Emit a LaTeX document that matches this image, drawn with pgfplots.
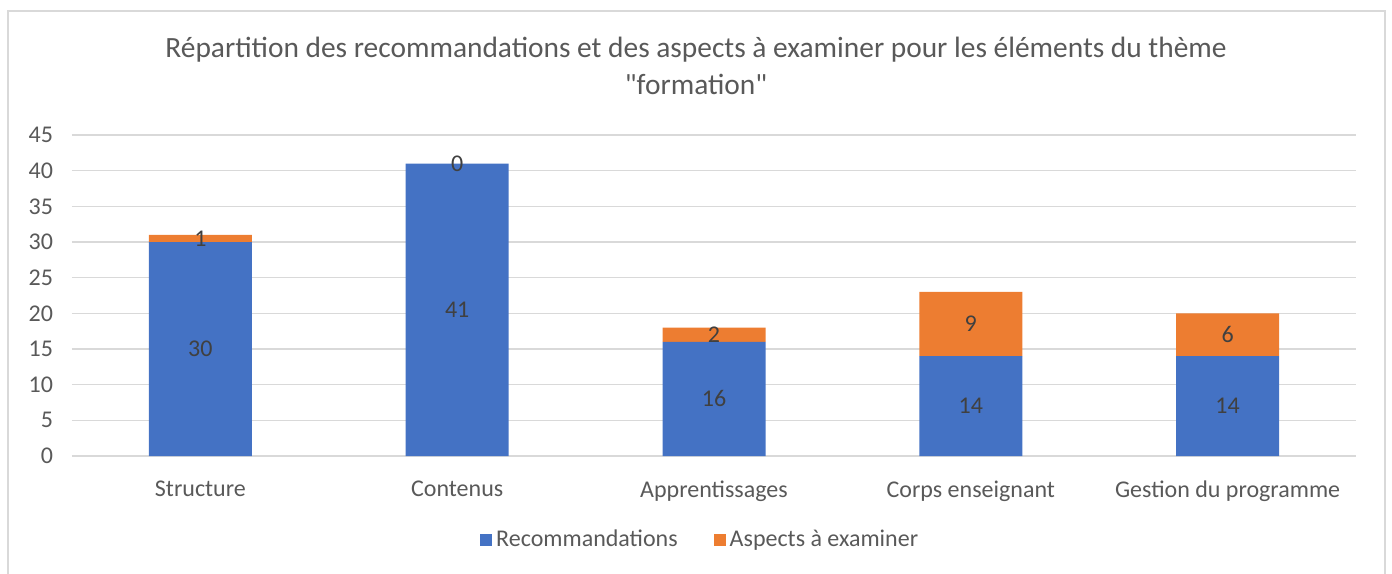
\documentclass[border=0pt]{standalone}
\usepackage{fontspec}
\setmainfont{Carlito}[Ligatures=TeXOff]
\usepackage{pgfplots}
\usepackage{pgfplotstable}
\pgfplotsset{compat=1.18}
\usetikzlibrary{calc}

\definecolor{xblue}{HTML}{4472C4}
\definecolor{xorange}{HTML}{ED7D31}
\definecolor{xgrid}{HTML}{D9D9D9}
\definecolor{xtext}{HTML}{595959}
\definecolor{xlabel}{HTML}{404040}

\pgfplotstableread{
x r a
0 30 1
1 41 0
2 16 2
3 14 9
4 14 6
}\formation

\begin{document}
\begin{tikzpicture}[x=0.5pt, y=0.5pt]
  \begin{axis}[
      scale only axis,
      width=642pt, height=160.5pt,
      ybar stacked, bar width=51.5pt,
      xmin=-0.5, xmax=4.5, ymin=0, ymax=45,
      xtick=data,
      xticklabels={Structure, Contenus, Apprentissages, Corps enseignant, Gestion du programme},
      ytick={0,5,...,45},
      ymajorgrids, grid style={xgrid, line width=0.75pt},
      axis lines*=left,
      y axis line style={draw=none},
      x axis line style={xgrid, line width=0.75pt, -},
      major tick length=0pt,
      tick label style={font=\fontsize{12}{14}\selectfont, text=xtext},
      /pgf/number format/assume math mode=true,
      yticklabel style={xshift=-6pt},
      xticklabel style={yshift=-9pt},
      point meta=explicit,
      nodes near coords,
      every node near coord/.append style={anchor=center,
        font=\fontsize{12}{14}\selectfont, text=xlabel},
      legend style={at={(0.49,-0.262)}, anchor=center, draw=none, fill=none,
        legend columns=2, font=\fontsize{12}{14}\selectfont, text=xtext,
        /tikz/every even column/.append style={column sep=16pt}},
      legend image code/.code={\fill[#1] (0pt,-3pt) rectangle (6pt,3pt);},
    ]
    \addplot[fill=xblue, draw=none] table[x=x, y=r, meta=r] {\formation};
    \addlegendentry{Recommandations}
    \addplot[fill=xorange, draw=none] table[x=x, y=a, meta=a] {\formation};
    \addlegendentry{Aspects à examiner}
    % zero-height segment gets no automatic label: keep its place
    \coordinate (zero) at (axis cs:1,41);
    \coordinate (ll) at (rel axis cs:0,0);
  \end{axis}
  \node[font=\fontsize{12}{14}\selectfont, text=xlabel] at (zero) {0};
  \coordinate (o) at ($(ll)+(-72,-117)$);
  \useasboundingbox (o) rectangle ++(1392,573);
  \draw[xgrid, line width=1pt] ($(o)+(8,-5)$) -- ($(o)+(8,562)$) -- ($(o)+(1385,562)$) -- ($(o)+(1385,-5)$);
  \node[align=center, font=\fontsize{14.7}{18.5}\selectfont, text=xtext] at ($(o)+(696,507)$)
    {Répartition des recommandations et des aspects à examiner pour les éléments du thème\\"formation"};
\end{tikzpicture}
\end{document}
